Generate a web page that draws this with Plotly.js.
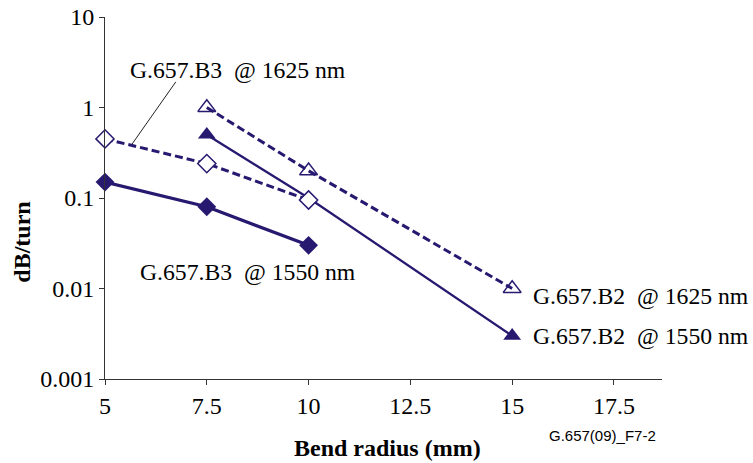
<!DOCTYPE html>
<html>
<head>
<meta charset="utf-8">
<script src="https://cdn.plot.ly/plotly-3.0.1.min.js"></script>
<style>html,body{margin:0;padding:0;background:#fff;}#chart{width:753px;height:463px;}</style>
</head>
<body>
<div id="chart"></div>
<script>
// Bend radius (mm)
const xB3 = [5, 7.5, 10];
const xB2 = [7.5, 10, 15];
// dB/turn
const b3_1550 = [0.15, 0.08, 0.03];
const b3_1625 = [0.45, 0.24, 0.095];
const b2_1550 = [0.5, 0.1, 0.003];
const b2_1625 = [1.0, 0.2, 0.01];
const seriesNames = ["G.657.B3  @ 1550 nm", "G.657.B3  @ 1625 nm", "G.657.B2  @ 1550 nm", "G.657.B2  @ 1625 nm"];
const xTicks = [5, 7.5, 10, 12.5, 15, 17.5];
const yTicks = [0.001, 0.01, 0.1, 1, 10];
const yTickText = ["0.001", "0.01", "0.1", "1", "10"];

const C = "#281970";
const nb = s => s.replace(/  /g, " \u00a0");

const traces = [
  {x: xB2, y: b2_1550, name: seriesNames[2], mode: "lines+markers", cliponaxis: false,
   line: {color: C, width: 2.3}, marker: {symbol: "triangle-up", size: 15.5, color: C}},
  {x: xB2, y: b2_1625, name: seriesNames[3], mode: "lines+markers", cliponaxis: false,
   line: {color: C, width: 3, dash: "8px,4px"}, marker: {symbol: "triangle-up-open", size: 15.5, color: C, line: {width: 1.5}}},
  {x: xB3, y: b3_1550, name: seriesNames[0], mode: "lines+markers", cliponaxis: false,
   line: {color: C, width: 3.3}, marker: {symbol: "diamond", size: 14.5, color: C}},
  {x: xB3, y: b3_1625, name: seriesNames[1], mode: "lines+markers", cliponaxis: false,
   line: {color: C, width: 3, dash: "8px,4px"}, marker: {symbol: "diamond", size: 14, color: "#ffffff", line: {color: C, width: 1.5}}}
];

const tf = {family: "Liberation Serif, Times New Roman, serif", size: 24, color: "#000"};
const af = {family: "Liberation Serif, Times New Roman, serif", size: 23.7, color: "#000"};

const layout = {
  width: 753, height: 463,
  margin: {l: 105, r: 91, t: 17, b: 84},
  paper_bgcolor: "#fff", plot_bgcolor: "#fff",
  showlegend: false,
  font: tf,
  xaxis: {
    range: [5, 18.68], tickvals: xTicks, ticktext: xTicks.map(String),
    showgrid: false, zeroline: false, showline: true, linecolor: "#333", linewidth: 1,
    ticks: "outside", ticklen: 5, tickcolor: "#333", tickfont: tf
  },
  yaxis: {
    type: "log", range: [-3, 1], tickvals: yTicks, ticktext: yTickText,
    showgrid: false, zeroline: false, showline: true, linecolor: "#333", linewidth: 1,
    ticks: "outside", ticklen: 5, tickcolor: "#333", tickfont: tf
  },
  annotations: [
    {x: 0.508, y: -0.19, xref: "paper", yref: "paper", text: "<b>Bend radius (mm)</b>", showarrow: false, xanchor: "center", yanchor: "middle", font: tf},
    {x: -0.149, y: 0.3765, xref: "paper", yref: "paper", text: "<b>dB/turn</b>", textangle: -90, showarrow: false, xanchor: "center", yanchor: "middle", font: tf},
    {x: 5.565, y: 0.411, xref: "x", yref: "y", text: nb(seriesNames[1]), showarrow: false, xanchor: "left", yanchor: "middle", font: af},
    {x: 5.81, y: -1.821, xref: "x", yref: "y", text: nb(seriesNames[0]), showarrow: false, xanchor: "left", yanchor: "middle", font: af},
    {x: 15.47, y: -2.088, xref: "x", yref: "y", text: nb(seriesNames[3]), showarrow: false, xanchor: "left", yanchor: "middle", font: af},
    {x: 15.47, y: -2.53, xref: "x", yref: "y", text: nb(seriesNames[2]), showarrow: false, xanchor: "left", yanchor: "middle", font: af},
    {x: 5.66, y: -0.407, xref: "x", yref: "y", text: "", showarrow: true, arrowhead: 0, arrowwidth: 1, arrowcolor: "#222", ax: 45, ay: -64, standoff: 0},
    {x: 0.893, y: -0.155, xref: "paper", yref: "paper", text: "G.657(09)_F7-2", showarrow: false, xanchor: "center", yanchor: "middle",
     font: {family: "Liberation Sans, Arial, sans-serif", size: 15, color: "#000"}}
  ]
};

Plotly.newPlot("chart", traces, layout, {displayModeBar: false, staticPlot: true});
</script>
</body>
</html>
